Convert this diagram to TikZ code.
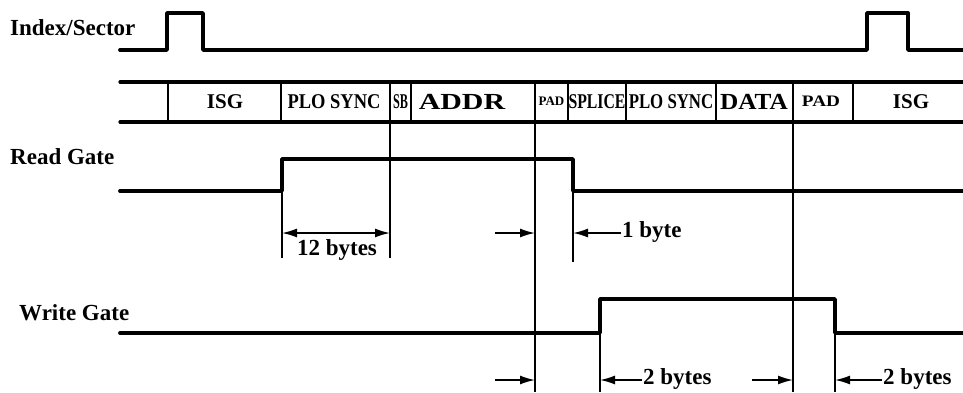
\documentclass[tikz,border=0pt]{standalone}
\usepackage{fontspec}
\setmainfont{Liberation Serif}
\usetikzlibrary{arrows.meta}
\usetikzlibrary{calc}

\tikzset{
	sig/.style={line width=3.8pt, line cap=round, line join=round},
	bar/.style={line width=3.2pt, line cap=round},
	guide/.style={line width=1.4pt},
	tip/.tip={Latex[length=15pt, width=9pt]},
	dim/.style={line width=1.6pt, -tip},
	lbl/.style={font=\fontsize{23}{26}\selectfont\bfseries, inner sep=0pt},
	cell/.style={font=\fontsize{21}{24}\selectfont\bfseries, inner sep=0pt}
}

\begin{document}
\begin{tikzpicture}[x=1pt, y=-1pt]
		\useasboundingbox (0,0) rectangle (963,392);
		% signal names
		\node[lbl, anchor=west] (idx) at (10,28) {Index/Sector};
		\node[lbl, anchor=west] (rd) at (10,157) {Read Gate};
		\node[lbl, anchor=west] (wr) at (19,313) {Write Gate};
		% index pulses
		\draw[sig] (120,50) -- (167,50) -- (167,13) -- (203,13) -- (203,50) -- (867,50) -- (867,13) -- (908,13) -- (908,50) -- (963,50);
		% sector format
		\draw[bar] (120,82) -- (963,82);
		\draw[bar] (120,122) -- (963,122);
		\foreach \x in {168,281,390,411,535,568,626,716,793,853}
			\draw[line width=1.8pt] (\x,82) -- (\x,122);
		\node[cell] (isg1) at (225,102) {ISG};
		\node[cell] (plo1) at (334,102) {\scalebox{0.88}[1]{PLO SYNC}};
		\node[cell] (sb) at (400.5,102) {\scalebox{0.58}[1]{SB}};
		\node[cell, font=\fontsize{23}{26}\selectfont\bfseries] (addr) at (462,102) {\scalebox{1.3}[1]{ADDR}};
		\node[cell, font=\fontsize{13}{15}\selectfont\bfseries] (pad1) at (551.5,101) {PAD};
		\node[cell] (spl) at (597,102) {\scalebox{0.75}[1]{SPLICE}};
		\node[cell] (plo2) at (671,102) {\scalebox{0.8}[1]{PLO SYNC}};
		\node[cell, font=\fontsize{23}{26}\selectfont\bfseries] (data) at (754,102) {\scalebox{1.1}[1]{DATA}};
		\node[cell, font=\fontsize{16}{18}\selectfont\bfseries] (pad2) at (821,101) {\scalebox{1.2}[1]{PAD}};
		\node[cell] (isg2) at (911,102) {ISG};
		% read gate
		\coordinate (rgUp) at (282,191);
		\coordinate (rgDn) at (573,191);
		\draw[sig] (120,191) -- (rgUp) -- (282,159) -- (573,159) -- (rgDn) -- (963,191);
		% write gate
		\coordinate (wgUp) at (600,333);
		\coordinate (wgDn) at (835,333);
		\draw[sig] (120,333) -- (wgUp) -- (600,299) -- (835,299) -- (wgDn) -- (963,333);
		% guide lines
		\draw[guide] (390,122) coordinate (sbL) -- (390,258) coordinate (sbB);
		\draw[guide] (rgUp) -- (282,258);
		\draw[guide] (535,122) coordinate (padL) -- (535,392);
		\draw[guide] (rgDn) -- (573,262);
		\draw[guide] (793,122) coordinate (padR) -- (793,392);
		\draw[guide] (wgUp) -- (600,392);
		\draw[guide] (wgDn) -- (835,392);
		% timing
		\draw[dim, tip-tip] (282,233) -- (390,233);
		\node[lbl] (t12) at (337,250) {12 bytes};
		\draw[dim] (495,233) -- (535,233);
		\draw[dim] (621,233) -- (573,233);
		\node[lbl, anchor=west] (t1) at (622,232) {1 byte};
		\draw[dim] (495,380) -- (535,380);
		\draw[dim] (642,380) -- (600,380);
		\node[lbl, anchor=west] (t2a) at (643,379) {2 bytes};
		\draw[dim] (752,380) -- (793,380);
		\draw[dim] (882,380) -- (835,380);
		\node[lbl, anchor=west] (t2b) at (883,379) {2 bytes};
	\end{tikzpicture}
\end{document}
